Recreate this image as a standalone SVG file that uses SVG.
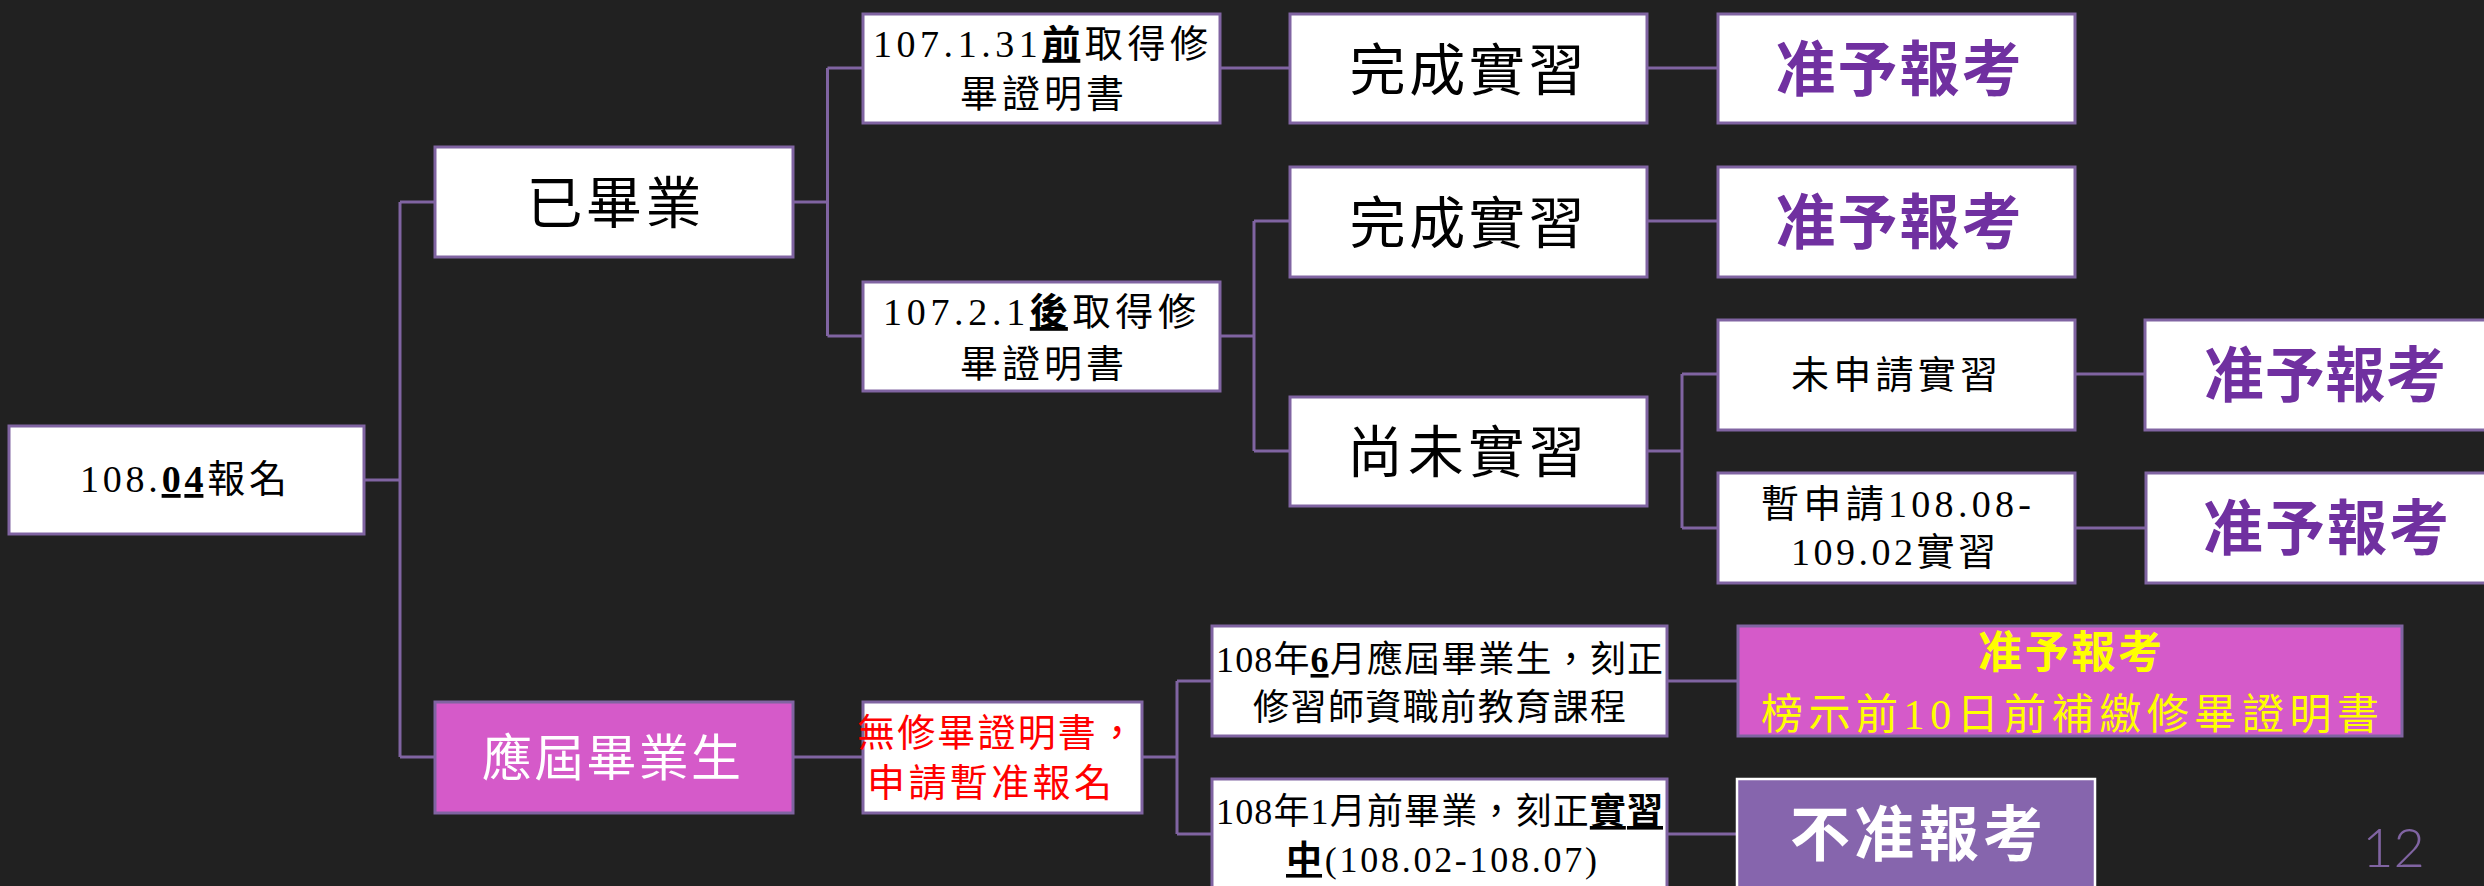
<svg xmlns="http://www.w3.org/2000/svg" width="2484" height="886" viewBox="0 0 2484 886">
<style>
.box{fill:#ffffff;stroke:#8064A2;stroke-width:3}
.mag{fill:#D55AC9;stroke:#8064A2;stroke-width:3}
.deny{fill:#8665AD;stroke:#ffffff;stroke-width:2.5}
.conn{fill:none;stroke:#8064A2;stroke-width:3}
text{font-family:"Liberation Serif","Noto Sans CJK TC",serif;text-anchor:middle}
.blk{fill:#000000}
.ok{fill:#7030A0;font-family:"Noto Sans CJK TC",sans-serif;font-weight:bold}
.sans{font-family:"Noto Sans CJK TC",sans-serif;font-weight:bold}
.pg{font-family:"Lato","Liberation Sans",sans-serif;font-weight:300;fill:#8064A2}
.b{font-weight:bold}
.u{text-decoration:underline}
</style>
<rect x="0" y="0" width="2484" height="886" fill="#212121"/>
<g id="connectors">
<path class="conn" d="M364 480H400M400 202V757M400 202H435M400 757H435"/>
<path class="conn" d="M793 202H827.5M827.5 68V336M827.5 68H863M827.5 336H863"/>
<path class="conn" d="M1220 68H1290M1647 68H1718"/>
<path class="conn" d="M1220 336H1254M1254 221V451M1254 221H1290M1254 451H1290"/>
<path class="conn" d="M1647 221H1718"/>
<path class="conn" d="M1647 451H1682M1682 374V528M1682 374H1718M1682 528H1718"/>
<path class="conn" d="M2075 374H2145M2075 528H2146"/>
<path class="conn" d="M793 757H863M1142 757H1177M1177 681V834M1177 681H1212M1177 834H1212"/>
<path class="conn" d="M1667 681H1738M1667 834H1737"/>
</g>
<g id="root">
<rect class="box" x="9" y="426" width="355" height="108"/>
<text class="blk" x="183.5" y="492" font-size="38" textLength="207" lengthAdjust="spacing">108.<tspan class="b u">04</tspan>報名</text>
</g>
<g id="graduated">
<rect class="box" x="435" y="147" width="358" height="110"/>
<text class="blk" x="614" y="223" font-size="56" textLength="175" lengthAdjust="spacing">已畢業</text>
</g>
<g id="fresh-grad">
<rect class="mag" x="435" y="702" width="358" height="111"/>
<text x="611.5" y="776" font-size="50" fill="#ffffff" textLength="259" lengthAdjust="spacing">應屆畢業生</text>
</g>
<g id="before-107-1-31">
<rect class="box" x="863" y="14" width="357" height="109"/>
<text class="blk" x="1040.5" y="57" font-size="38" textLength="335" lengthAdjust="spacing">107.1.31<tspan class="b u">前</tspan>取得修</text>
<text class="blk" x="1042" y="107" font-size="38" textLength="164" lengthAdjust="spacing">畢證明書</text>
</g>
<g id="after-107-2-1">
<rect class="box" x="863" y="282" width="357" height="109"/>
<text class="blk" x="1039.5" y="325" font-size="38" textLength="313" lengthAdjust="spacing">107.2.1<tspan class="b u">後</tspan>取得修</text>
<text class="blk" x="1042" y="377" font-size="38" textLength="164" lengthAdjust="spacing">畢證明書</text>
</g>
<g id="no-cert">
<rect class="box" x="863" y="702" width="279" height="111"/>
<text x="996.5" y="746" font-size="38" fill="#FF0000" textLength="279" lengthAdjust="spacing">無修畢證明書，</text>
<text x="989.5" y="796" font-size="38" fill="#FF0000" textLength="245" lengthAdjust="spacing">申請暫准報名</text>
</g>
<g id="done-intern-1">
<rect class="box" x="1290" y="14" width="357" height="109"/>
<text class="blk" x="1467" y="90" font-size="56" textLength="235" lengthAdjust="spacing">完成實習</text>
</g>
<g id="allow-1">
<rect class="box" x="1718" y="14" width="357" height="109"/>
<text class="ok" x="1898.5" y="91" font-size="60" textLength="246" lengthAdjust="spacing">准予報考</text>
</g>
<g id="done-intern-2">
<rect class="box" x="1290" y="167" width="357" height="110"/>
<text class="blk" x="1467" y="243" font-size="56" textLength="235" lengthAdjust="spacing">完成實習</text>
</g>
<g id="allow-2">
<rect class="box" x="1718" y="167" width="357" height="110"/>
<text class="ok" x="1898.5" y="244" font-size="60" textLength="246" lengthAdjust="spacing">准予報考</text>
</g>
<g id="not-intern">
<rect class="box" x="1290" y="397" width="357" height="109"/>
<text class="blk" x="1466" y="472" font-size="56" textLength="238" lengthAdjust="spacing">尚未實習</text>
</g>
<g id="not-applied">
<rect class="box" x="1718" y="320" width="357" height="110"/>
<text class="blk" x="1894.5" y="388" font-size="38" textLength="207" lengthAdjust="spacing">未申請實習</text>
</g>
<g id="allow-3">
<rect class="box" x="2145" y="320" width="357" height="110"/>
<text class="ok" x="2325" y="397" font-size="60" textLength="242" lengthAdjust="spacing">准予報考</text>
</g>
<g id="temp-applied">
<rect class="box" x="1718" y="473" width="357" height="110"/>
<text class="blk" x="1896" y="517" font-size="38" textLength="270" lengthAdjust="spacing">暫申請108.08-</text>
<text class="blk" x="1893.5" y="565" font-size="38" textLength="205" lengthAdjust="spacing">109.02實習</text>
</g>
<g id="allow-4">
<rect class="box" x="2146" y="473" width="357" height="110"/>
<text class="ok" x="2326" y="550" font-size="60" textLength="246" lengthAdjust="spacing">准予報考</text>
</g>
<g id="june-grad">
<rect class="box" x="1212" y="626" width="455" height="110"/>
<text class="blk" x="1439.5" y="672" font-size="36" textLength="447" lengthAdjust="spacing">108年<tspan class="b u">6</tspan>月應屆畢業生，刻正</text>
<text class="blk" x="1439.5" y="720" font-size="36" textLength="373" lengthAdjust="spacing">修習師資職前教育課程</text>
</g>
<g id="allow-later">
<rect class="mag" x="1738" y="626" width="664" height="110"/>
<text class="sans" x="2070" y="668" font-size="44" fill="#FFFF00" textLength="184" lengthAdjust="spacing">准予報考</text>
<text x="2070" y="729" font-size="42" fill="#FFFF00" textLength="618" lengthAdjust="spacing">榜示前10日前補繳修畢證明書</text>
</g>
<g id="jan-grad">
<rect class="box" x="1212" y="779" width="455" height="110"/>
<text class="blk" x="1439.5" y="824" font-size="36" textLength="447" lengthAdjust="spacing">108年1月前畢業，刻正<tspan class="b u">實習</tspan></text>
<text class="blk" x="1441.5" y="872" font-size="36" textLength="311" lengthAdjust="spacing"><tspan class="b u">中</tspan>(108.02-108.07)</text>
</g>
<g id="deny">
<rect class="deny" x="1737" y="779" width="358" height="112"/>
<text class="sans" x="1916.5" y="856" font-size="60" fill="#ffffff" textLength="253" lengthAdjust="spacing">不准報考</text>
</g>
<g id="page-number">
<text class="pg" x="2393.5" y="867" font-size="54">12</text>
</g>
</svg>
